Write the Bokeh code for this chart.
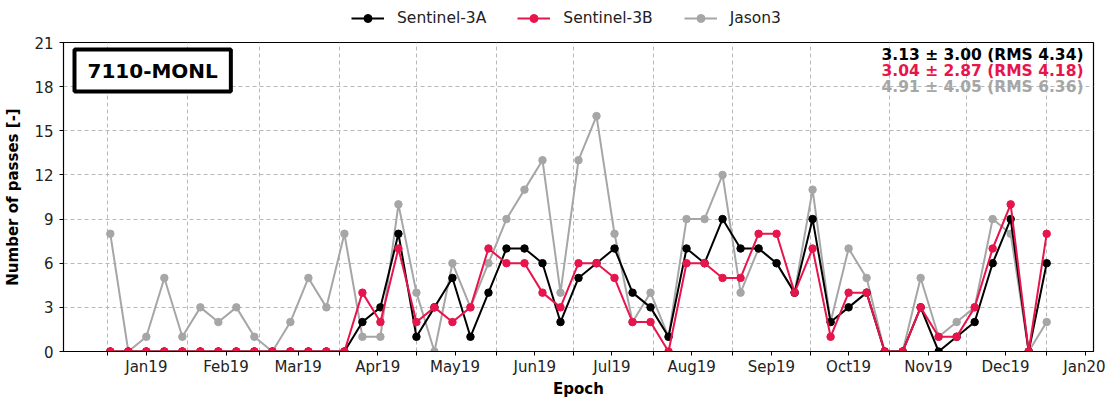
import pandas as pd
from bokeh.plotting import figure
from bokeh.layouts import column
from bokeh.models import Range1d, FixedTicker, Label, Legend, LegendItem
from bokeh.embed import file_html
from bokeh.resources import INLINE

# ---------------- data ----------------
dates = [
    "2019-01-02", "2019-01-09", "2019-01-16", "2019-01-23", "2019-01-30",
    "2019-02-06", "2019-02-13", "2019-02-20", "2019-02-27",
    "2019-03-06", "2019-03-13", "2019-03-20", "2019-03-27",
    "2019-04-03", "2019-04-10", "2019-04-17", "2019-04-24",
    "2019-05-01", "2019-05-08", "2019-05-15", "2019-05-22", "2019-05-29",
    "2019-06-05", "2019-06-12", "2019-06-19", "2019-06-26",
    "2019-07-03", "2019-07-10", "2019-07-17", "2019-07-24", "2019-07-31",
    "2019-08-07", "2019-08-14", "2019-08-21", "2019-08-28",
    "2019-09-04", "2019-09-11", "2019-09-18", "2019-09-25",
    "2019-10-02", "2019-10-09", "2019-10-16", "2019-10-23", "2019-10-30",
    "2019-11-06", "2019-11-13", "2019-11-20", "2019-11-27",
    "2019-12-04", "2019-12-11", "2019-12-18", "2019-12-25",
    "2020-01-01",
]
sentinel_3a = [0, 0, 0, 0, 0, 0, 0, 0, 0, 0, 0, 0, 0, 0,
               2, 3, 8, 1, 3, 5, 1, 4, 7, 7, 6, 2, 5, 6, 7, 4, 3, 1, 7, 6, 9, 7, 7, 6, 4,
               9, 2, 3, 4, 0, 0, 3, 0, 1, 2, 6, 9, 0, 6]
sentinel_3b = [0, 0, 0, 0, 0, 0, 0, 0, 0, 0, 0, 0, 0, 0,
               4, 2, 7, 2, 3, 2, 3, 7, 6, 6, 4, 3, 6, 6, 5, 2, 2, 0, 6, 6, 5, 5, 8, 8, 4,
               7, 1, 4, 4, 0, 0, 3, 1, 1, 3, 7, 10, 0, 8]
jason3 = [8, 0, 1, 5, 1, 3, 2, 3, 1, 0, 2, 5, 3, 8,
          1, 1, 10, 4, 0, 6, 3, 6, 9, 11, 13, 4, 13, 16, 8, 2, 4, 1, 9, 9, 12, 4, 7, 6, 4,
          11, 2, 7, 5, 0, 0, 5, 1, 2, 3, 9, 8, 0, 2]
series_names = ["Sentinel-3A", "Sentinel-3B", "Jason3"]
stats_texts = ["3.13 \u00b1 3.00 (RMS 4.34)",
               "3.04 \u00b1 2.87 (RMS 4.18)",
               "4.91 \u00b1 4.05 (RMS 6.36)"]
station = "7110-MONL"
month_labels = ["Jan19", "Feb19", "Mar19", "Apr19", "May19", "Jun19", "Jul19",
                "Aug19", "Sep19", "Oct19", "Nov19", "Dec19", "Jan20"]
label_dates = ["2019-01-16", "2019-02-16", "2019-03-16", "2019-04-16", "2019-05-16",
               "2019-06-16", "2019-07-16", "2019-08-16", "2019-09-16", "2019-10-16",
               "2019-11-16", "2019-12-16", "2020-01-16"]
month_starts = ["2019-01-01", "2019-02-01", "2019-03-01", "2019-04-01", "2019-05-01",
                "2019-06-01", "2019-07-01", "2019-08-01", "2019-09-01", "2019-10-01",
                "2019-11-01", "2019-12-01", "2020-01-01"]
y_ticks = [0, 3, 6, 9, 12, 15, 18, 21]

# ---------------- style ----------------
FONT = "DejaVu Sans"
C_A = "#000000"
C_B = "#E8144C"
C_J = "#A6A6A6"
COLORS = {"Sentinel-3A": C_A, "Sentinel-3B": C_B, "Jason3": C_J}
SERIES = {"Sentinel-3A": sentinel_3a, "Sentinel-3B": sentinel_3b, "Jason3": jason3}
FW, FH = 1030, 309
LEG_H = 28


def ms(s):
    return pd.Timestamp(s).value / 1e6


x = pd.to_datetime(dates)
span = x[-1] - x[0]
x_start = x[0] - span * 0.05
x_end = x[-1] + span * 0.05

p = figure(frame_width=FW, frame_height=FH, x_axis_type="datetime",
           x_range=Range1d(x_start, x_end), y_range=Range1d(0, 21),
           output_backend="svg", toolbar_location=None,
           min_border_left=63, min_border_right=12,
           min_border_top=14, min_border_bottom=46,
           background_fill_color="white", border_fill_color="white")

p.outline_line_color = "black"
p.outline_line_width = 1.2
p.outline_line_alpha = 1

# axes
p.yaxis.ticker = FixedTicker(ticks=y_ticks)
p.xaxis.ticker = FixedTicker(ticks=[ms(d) for d in label_dates],
                             minor_ticks=[ms(d) for d in month_starts])
p.xaxis.major_label_overrides = {ms(d): lab for d, lab in zip(label_dates, month_labels)}
for ax in (p.xaxis[0], p.yaxis[0]):
    ax.axis_line_color = "black"
    ax.major_tick_line_color = "black"
    ax.minor_tick_line_color = "black"
    ax.major_tick_in = 0
    ax.major_tick_out = 4
    ax.minor_tick_in = 0
    ax.minor_tick_out = 4
    ax.major_label_text_font = FONT
    ax.major_label_text_font_size = "15px"
    ax.major_label_text_color = "#222222"
    ax.axis_label_text_font = FONT
    ax.axis_label_text_font_size = "15px"
    ax.axis_label_text_font_style = "bold"
    ax.axis_label_text_color = "black"
p.yaxis.minor_tick_line_color = None
p.xaxis.axis_label = "Epoch"
p.yaxis.axis_label = "Number of passes [-]"
p.xaxis.major_label_standoff = 2
p.xaxis.axis_label_standoff = 1
p.yaxis.major_label_standoff = 6
p.yaxis.axis_label_standoff = 9

# grid
p.xgrid.ticker = FixedTicker(ticks=[ms(d) for d in month_starts])
for g in (p.xgrid[0], p.ygrid[0]):
    g.grid_line_color = "#b8b8b8"
    g.grid_line_dash = "4 3"
    g.grid_line_width = 1

# series (gray bottom, red on top)
for name in ["Jason3", "Sentinel-3A", "Sentinel-3B"]:
    col = COLORS[name]
    p.line(x, SERIES[name], line_color=col, line_width=2)
    p.scatter(x, SERIES[name], size=7.5, fill_color=col, line_color=col)

# station box
p.add_layout(Label(x=11, y=FH - 7, x_units="screen", y_units="screen",
                   text=station, text_font=FONT, text_font_size="20px",
                   text_font_style="bold", text_color="black",
                   text_align="left", text_baseline="top",
                   background_fill_color="white", border_line_color="black",
                   border_line_width=4,
                   padding=dict(left=13, right=13, top=9, bottom=9)))

# stats
for i, (txt, col) in enumerate(zip(stats_texts, [C_A, C_B, C_J])):
    p.add_layout(Label(x=FW - 10, y=FH - 12 - 16 * i, x_units="screen", y_units="screen",
                       text=txt, text_font=FONT, text_font_size="15.5px",
                       text_font_style="bold", text_color=col,
                       text_align="right", text_baseline="middle"))

# legend strip above the plot (header figure; its data lies outside its view)
lf = figure(frame_width=FW, frame_height=LEG_H, output_backend="svg",
            toolbar_location=None, x_axis_type="datetime",
            x_axis_location=None, y_axis_location=None,
            min_border_left=63, min_border_right=12, min_border_top=0,
            min_border_bottom=0,
            x_range=p.x_range, y_range=Range1d(100, 101),
            outline_line_color=None, background_fill_color="white",
            border_fill_color="white")
lf.xgrid.visible = False
lf.ygrid.visible = False
items = []
for name in series_names:
    col = COLORS[name]
    lr = lf.line(x, SERIES[name], line_color=col, line_width=2)
    sr = lf.scatter(x, SERIES[name], size=7.5, fill_color=col, line_color=col)
    items.append(LegendItem(label=name, renderers=[lr, sr]))
legend = Legend(items=items, orientation="horizontal", location=(288, 0),
                glyph_width=33, glyph_height=20, label_height=20,
                label_standoff=13, spacing=31, padding=0, margin=0,
                border_line_alpha=0, background_fill_alpha=0,
                label_text_font=FONT, label_text_font_size="15.5px",
                label_text_color="#222222")
lf.add_layout(legend)

layout = column(lf, p, spacing=0)
open("out.html", "w").write(file_html(layout, INLINE))
